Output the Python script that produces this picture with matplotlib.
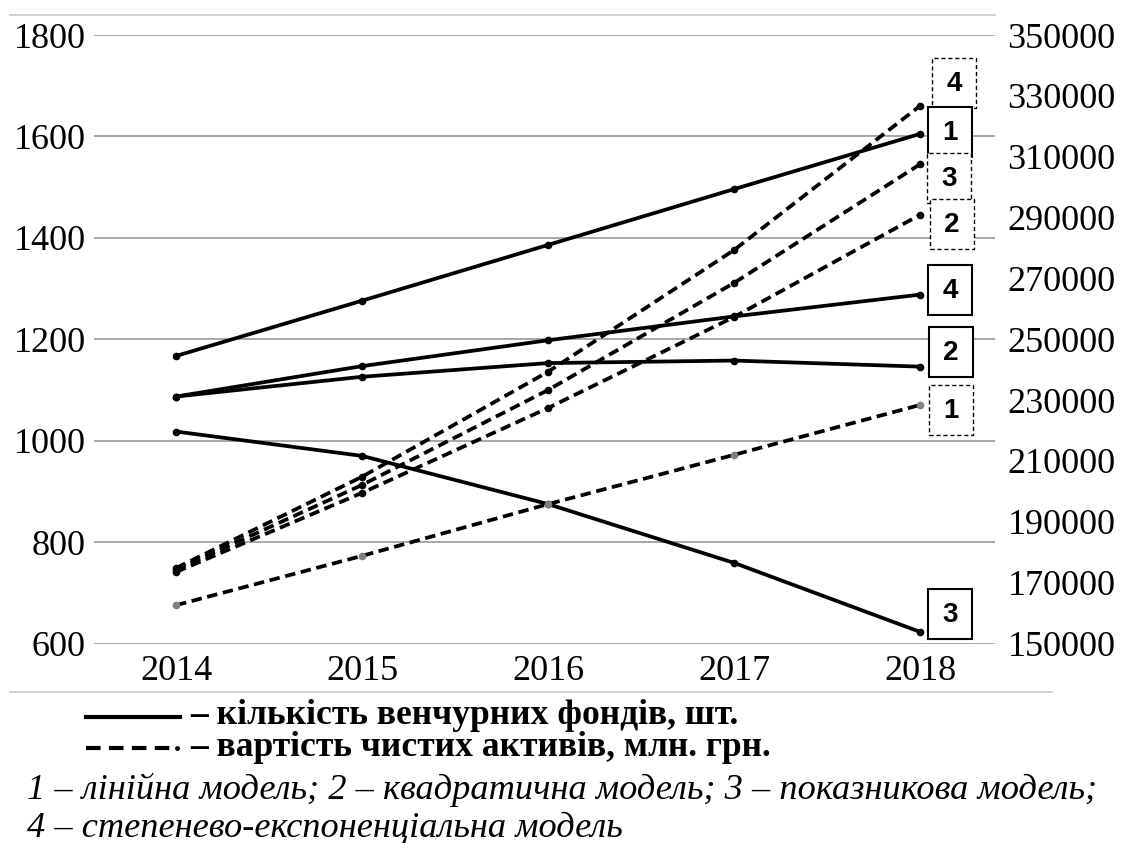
import matplotlib
matplotlib.use("Agg")
import matplotlib.pyplot as plt
import matplotlib.transforms as mtransforms
from matplotlib.lines import Line2D
from matplotlib.patches import Rectangle


years = [2014, 2015, 2016, 2017, 2018]

# кількість венчурних фондів, шт. (ліва вісь)
funds_linear = [1167, 1276, 1386, 1496, 1605]
funds_quad = [1087, 1126, 1153, 1158, 1146]
funds_exp = [1018, 970, 875, 759, 623]
funds_powexp = [1087, 1147, 1198, 1245, 1288]

# вартість чистих активів, млн. грн. (права вісь)
assets_linear = [162600, 178800, 195800, 212000, 228400]
assets_quad = [173500, 199500, 227400, 257300, 290900]
assets_exp = [174200, 202100, 233300, 268500, 307500]
assets_powexp = [174800, 204800, 239300, 279300, 326700]

left_ticks = [600, 800, 1000, 1200, 1400, 1600, 1800]
right_ticks = [150000, 170000, 190000, 210000, 230000, 250000,
               270000, 290000, 310000, 330000, 350000]

legend_solid = "– кількість венчурних фондів, шт."
legend_dashed = "– вартість чистих активів, млн. грн."
models_1 = "1 – лінійна модель; 2 – квадратична модель; 3 – показникова модель;"
models_2 = "4 – степенево-експоненціальна модель"

serif = "Liberation Serif"
W, H = 1122, 843

fig = plt.figure(figsize=(W / 100, H / 100), dpi=100)
ax = fig.add_axes([94 / W, 1 - 643.5 / H, 901 / W, 608.5 / H])
ax2 = ax.twinx()

ax.set_xlim(2014 - 82 / 186, 2018 + 75 / 186)
ax.set_ylim(600, 1800)
ax2.set_ylim(150000, 350000)

for a in (ax, ax2):
    for s in a.spines.values():
        s.set_visible(False)
    a.tick_params(length=0, labelsize=26)

ax.set_yticks(left_ticks)
ax.set_yticklabels([str(v) for v in left_ticks], fontfamily=serif, fontsize=26)
ax2.set_yticks(right_ticks)
ax2.set_yticklabels([str(v) for v in right_ticks], fontfamily=serif, fontsize=26)
ax.set_xticks(years)
ax.set_xticklabels([str(y) for y in years], fontfamily=serif, fontsize=26)
ax.tick_params(axis="y", pad=6)
ax.tick_params(axis="x", pad=8)
ax2.tick_params(axis="y", pad=9)

ax.yaxis.grid(True, color="#a0a0a0", linewidth=1.3)
ax.set_axisbelow(True)

solid_kw = dict(color="black", linewidth=2.7, marker="o", markersize=4.5)
dash_kw = dict(color="black", linewidth=2.7, marker="o", markersize=4.5,
               linestyle=(0, (2.8, 1.5)))

ax.plot(years, funds_linear, **solid_kw)
ax.plot(years, funds_quad, **solid_kw)
ax.plot(years, funds_exp, **solid_kw)
ax.plot(years, funds_powexp, **solid_kw)

ax2.plot(years, assets_linear, markerfacecolor="#808080", markeredgecolor="#808080", **dash_kw)
ax2.plot(years, assets_quad, **dash_kw)
ax2.plot(years, assets_exp, **dash_kw)
ax2.plot(years, assets_powexp, **dash_kw)

# підписи моделей у рамках біля кінців ліній (зсуви в пікселях)
boxes = [
    (ax2, assets_powexp[-1], "4", 34, -23, True),
    (ax, funds_linear[-1], "1", 30, -2, False),
    (ax2, assets_exp[-1], "3", 29, 14, True),
    (ax2, assets_quad[-1], "2", 32, 9, True),
    (ax, funds_powexp[-1], "4", 30, -5, False),
    (ax, funds_quad[-1], "2", 31, -15, False),
    (ax2, assets_linear[-1], "1", 31, 5, True),
    (ax, funds_exp[-1], "3", 30, -18, False),
]
ident = mtransforms.IdentityTransform()
for a, val, num, dx, dy, dashed in boxes:
    px, py = a.transData.transform((years[-1], val))
    cx, cy = px + dx, py - dy
    rect = Rectangle((cx - 22, cy - 25), 44, 50, transform=ident,
                     facecolor="white", edgecolor="black",
                     linewidth=1.0 if dashed else 1.5,
                     linestyle=(0, (3, 2)) if dashed else "-", zorder=5)
    fig.add_artist(rect)
    fig.text(cx, cy - 1, num, transform=ident, ha="center", va="center",
             fontsize=20, fontweight="bold", family="Liberation Sans", zorder=6)

# рамка
fig.add_artist(Line2D([10 / W, 995 / W], [1 - 15 / H, 1 - 15 / H],
                      color="#c8c8c8", linewidth=1.2))
fig.add_artist(Line2D([10 / W, 1052 / W], [1 - 692 / H, 1 - 692 / H],
                      color="#c8c8c8", linewidth=1.2))

# легенда
fig.add_artist(Line2D([86 / W, 180 / W], [1 - 717 / H, 1 - 717 / H],
                      color="black", linewidth=3))
fig.add_artist(Line2D([86 / W, 170 / W], [1 - 748 / H, 1 - 748 / H],
                      color="black", linewidth=3, linestyle=(0, (3.5, 2))))
fig.add_artist(Line2D([177 / W], [1 - 748 / H], color="black",
                      marker="o", markersize=2.5, linestyle="none"))
fig.text(190 / W, 1 - 716 / H, legend_solid, fontsize=25.6, fontweight="bold",
         family=serif, va="center", ha="left")
fig.text(190 / W, 1 - 748 / H, legend_dashed, fontsize=25.6, fontweight="bold",
         family=serif, va="center", ha="left")
fig.text(27 / W, 1 - 790 / H, models_1, fontsize=26.2, fontstyle="italic",
         family=serif, va="center", ha="left")
fig.text(27 / W, 1 - 828 / H, models_2, fontsize=26.2, fontstyle="italic",
         family=serif, va="center", ha="left")

fig.savefig("out.png", dpi=100)
